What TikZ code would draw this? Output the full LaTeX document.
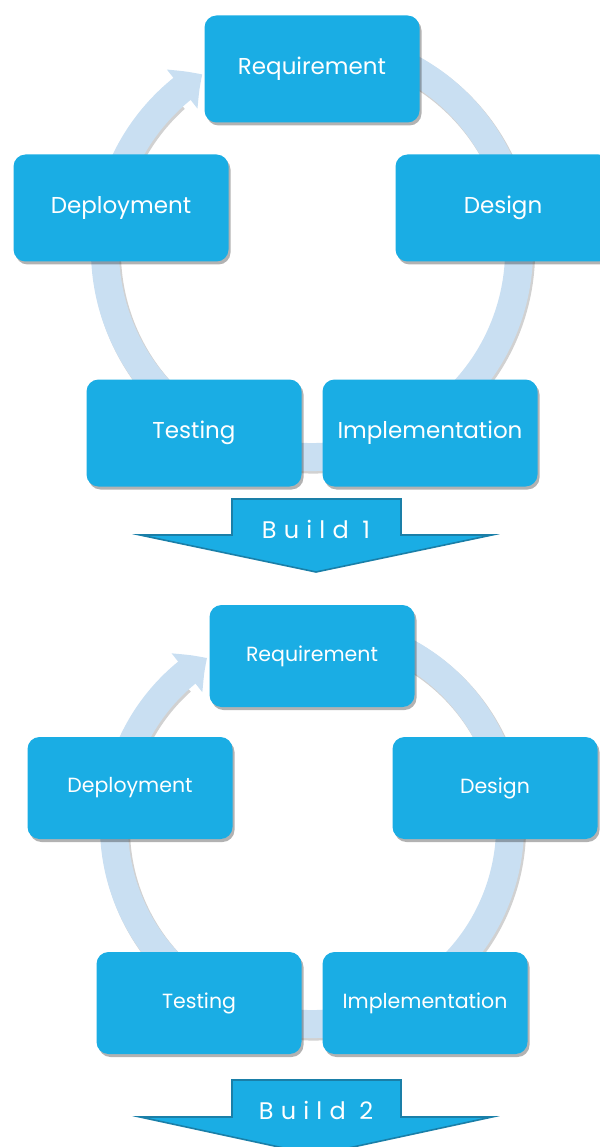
\documentclass[tikz,border=0pt]{standalone}
\usepackage{fontspec}
\setmainfont{Poppins}
\usetikzlibrary{arrows.meta,bending,shadows}
\definecolor{boxblue}{HTML}{1AADE4}
\definecolor{ringblue}{HTML}{C9DFF2}
\definecolor{arrowedge}{HTML}{1A7FA8}
\tikzset{
  stage/.style={fill=boxblue, rounded corners=12pt, text=white, align=center,
    drop shadow={shadow xshift=2pt, shadow yshift=-3pt, opacity=0.3, fill=black}},
  bigstage/.style={stage, minimum width=215pt, minimum height=107pt, font=\fontsize{23}{26}\selectfont},
  smallstage/.style={stage, minimum width=205pt, minimum height=102pt, font=\fontsize{20.5}{24}\selectfont},
  ring/.style={draw=ringblue, line width=28pt, -{Triangle[width=48pt,length=25pt,bend]}},
  ringshadow/.style={draw=black, opacity=0.18, line width=29pt},
  buildarrow/.style={fill=boxblue, draw=arrowedge, line width=1.6pt, line join=miter},
  buildtext/.style={text=white, font=\fontsize{24}{28}\selectfont\addfontfeatures{LetterSpace=30}}
}
\begin{document}
\begin{tikzpicture}[x=1pt,y=-1pt]
\useasboundingbox (0,0) rectangle (599,1147);
% ---------- Build 1 ----------
\coordinate (c1) at (312,250);
\draw[ringshadow] ([shift={(-70:207)}]313.5,252) arc[start angle=-70, end angle=228, radius=207];
\draw[ring] ([shift={(-70:207)}]c1) arc[start angle=-70, end angle=238, radius=207];
\node[bigstage] (req1) at (312,69) {Requirement};
\node[bigstage] (des1) at (503,208) {Design};
\node[bigstage] (imp1) at (430,433) {Implementation};
\node[bigstage] (tst1) at (194,433) {Testing};
\node[bigstage] (dep1) at (121,208) {Deployment};
\draw[buildarrow] (232,499) -- (401,499) -- (401,535) -- (492,535) -- (316,572) -- (140,535) -- (232,535) -- cycle;
\node[buildtext] (b1) at (316,529) {Build 1};
% ---------- Build 2 ----------
\coordinate (c2) at (312,826);
\draw[ringshadow] ([shift={(-70:198)}]313.5,828) arc[start angle=-70, end angle=228, radius=198];
\draw[ring] ([shift={(-70:198)}]c2) arc[start angle=-70, end angle=238, radius=198];
\node[smallstage] (req2) at (312,656) {Requirement};
\node[smallstage] (des2) at (495,788) {Design};
\node[smallstage] (imp2) at (425,1003) {Implementation};
\node[smallstage] (tst2) at (199,1003) {Testing};
\node[smallstage] (dep2) at (130,788) {Deployment};
\draw[buildarrow] (232,1080) -- (401,1080) -- (401,1117) -- (492,1117) -- (316,1155) -- (140,1117) -- (232,1117) -- cycle;
\node[buildtext] (b2) at (316,1110) {Build 2};
\end{tikzpicture}
\end{document}
